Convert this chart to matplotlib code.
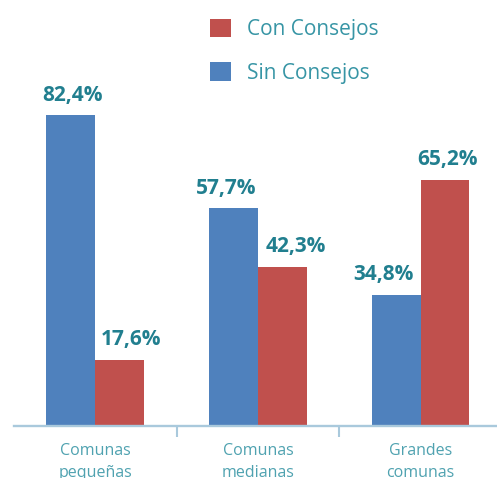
import matplotlib.pyplot as plt
import numpy as np

plt.rcParams['font.family'] = ['Open Sans', 'DejaVu Sans']

categories = ['Comunas\npequeñas', 'Comunas\nmedianas', 'Grandes\ncomunas']
sin_consejos = [82.4, 57.7, 34.8]
con_consejos = [17.6, 42.3, 65.2]

# horizontal nudges of the value labels (points), to keep them apart
sin_dx = [1, -5, -9]
con_dx = [8, 10, 2]

blue = '#4f81bd'
red = '#c0504d'
teal = '#217f8f'
light_teal = '#4fa2b0'
axis_col = '#a9c9dc'

fig = plt.figure(figsize=(4.97, 4.78), dpi=100)
ax = fig.add_axes([0.028, 0.1088, 0.972, 0.8912])

x = np.arange(len(categories))
w = 0.30

b1 = ax.bar(x - w / 2, sin_consejos, width=w, color=blue, label='Sin Consejos')
b2 = ax.bar(x + w / 2, con_consejos, width=w, color=red, label='Con Consejos')

for bars, vals, dxs in [(b1, sin_consejos, sin_dx), (b2, con_consejos, con_dx)]:
    for rect, v, dx in zip(bars, vals, dxs):
        ax.annotate(('%.1f%%' % v).replace('.', ','),
                    (rect.get_x() + rect.get_width() / 2, rect.get_height()),
                    xytext=(dx, 7), textcoords='offset points',
                    ha='center', va='bottom', fontsize=15, fontweight='bold',
                    color=teal)

ax.set_xlim(-0.5, 2.47)
ax.set_ylim(0, 113)

for s in ['top', 'left', 'right']:
    ax.spines[s].set_visible(False)
ax.spines['bottom'].set_color(axis_col)
ax.spines['bottom'].set_linewidth(1.7)

ax.set_yticks([])
ax.set_xticks(x)
ax.set_xticklabels(categories, fontsize=11.5, color=light_teal, linespacing=1.55)
ax.tick_params(axis='x', which='major', length=0, pad=12)
ax.set_xticks(x[:-1] + 0.5, minor=True)
ax.tick_params(axis='x', which='minor', length=8, width=1.5, color=axis_col)

leg = ax.legend([b2, b1], ['Con Consejos', 'Sin Consejos'],
                loc='upper left', bbox_to_anchor=(0.368, 1.0),
                frameon=False, fontsize=15, handlelength=1.0, handleheight=1.0,
                handletextpad=0.75, labelspacing=1.05)
for t in leg.get_texts():
    t.set_color('#3795a5')

fig.savefig('out.png', dpi=100)
